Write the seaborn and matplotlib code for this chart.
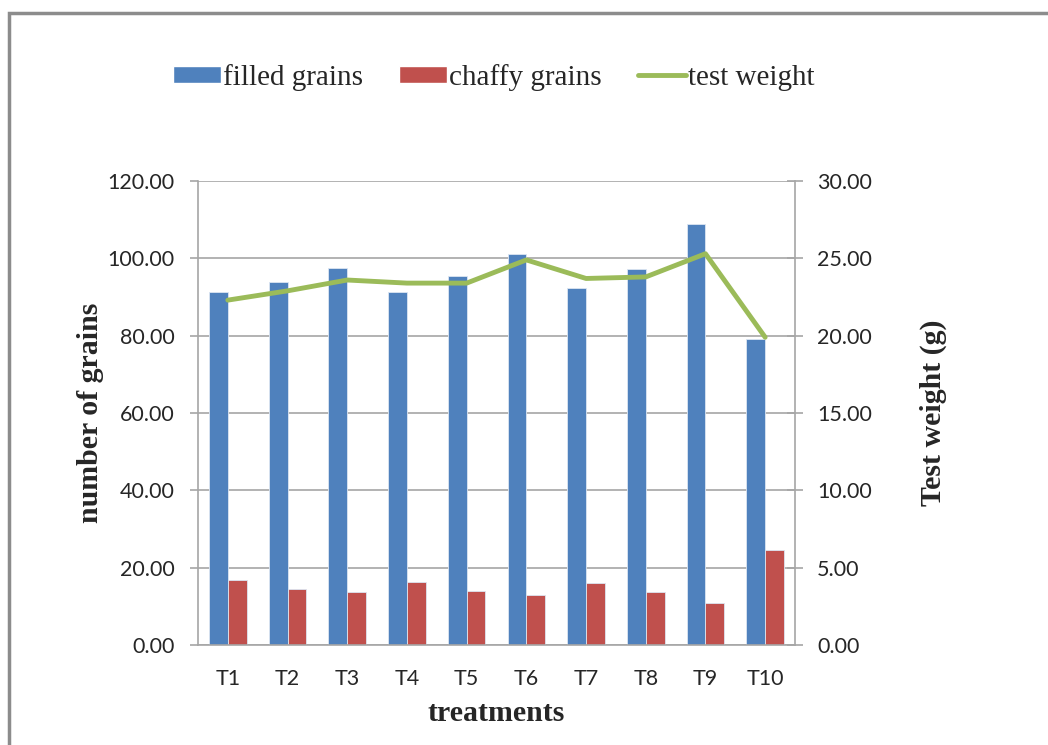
import numpy as np
import pandas as pd
import seaborn as sns
import matplotlib.pyplot as plt
from matplotlib.patches import Patch, Rectangle
from matplotlib.lines import Line2D

# values
treatments = ["T1", "T2", "T3", "T4", "T5", "T6", "T7", "T8", "T9", "T10"]
filled_grains = [91.2, 94.0, 97.6, 91.4, 95.4, 101.2, 92.4, 97.2, 108.9, 79.1]
chaffy_grains = [16.9, 14.4, 13.6, 16.3, 14.1, 12.9, 16.0, 13.6, 10.9, 24.6]
test_weight = [22.3, 22.9, 23.6, 23.4, 23.4, 24.9, 23.7, 23.8, 25.3, 19.9]

left_ticks = [0, 20, 40, 60, 80, 100, 120]
right_ticks = [0, 5, 10, 15, 20, 25, 30]

blue, red, green = "#4F81BD", "#C0504D", "#9BBB59"
grid_grey = "#A6A6A6"

bars = pd.DataFrame({
    "treatment": treatments * 2,
    "value": filled_grains + chaffy_grains,
    "kind": ["filled grains"] * len(treatments) + ["chaffy grains"] * len(treatments),
})
line = pd.DataFrame({"treatment": treatments, "weight": test_weight})

sns.set_style("white")
fig = plt.figure(figsize=(10.48, 7.45), dpi=100)
ax = fig.add_axes([0.1889, 0.1342, 0.5697, 0.6228])

sns.barplot(data=bars, x="treatment", y="value", hue="kind", order=treatments,
            palette=[blue, red], saturation=1, width=0.63, gap=0, ax=ax,
            edgecolor="#dce6f2", linewidth=0.6, legend=False)

ax2 = ax.twinx()
sns.pointplot(data=line, x="treatment", y="weight", order=treatments,
              color=green, markers="", linestyles="-", linewidth=3.5,
              errorbar=None, ax=ax2)

ax.set_xlim(-0.5, len(treatments) - 0.5)
ax.set_ylim(0, 120)
ax2.set_ylim(0, 30)
ax.set_yticks(left_ticks)
ax.set_yticklabels([f"{v:.2f}" for v in left_ticks])
ax2.set_yticks(right_ticks)
ax2.set_yticklabels([f"{v:.2f}" for v in right_ticks])

# gridlines at the left-axis ticks
ax.yaxis.grid(True, color=grid_grey, linewidth=1.2)
ax.set_axisbelow(True)

# category boundary ticks on the x axis
ax.set_xticks(np.arange(len(treatments)))
ax.set_xticklabels(treatments)
ax.set_xticks(np.arange(-0.5, len(treatments)), minor=True)
ax.tick_params(axis="x", which="major", length=0, pad=17)
ax.tick_params(axis="x", which="minor", length=7, width=1.2, color=grid_grey, direction="out")
ax.tick_params(axis="y", length=6, width=1.2, color=grid_grey, direction="out", pad=11)
ax2.tick_params(axis="y", length=12, width=1.2, color=grid_grey, direction="inout", pad=10)

for lab in ax.get_xticklabels() + ax.get_yticklabels() + ax2.get_yticklabels():
    lab.set_fontfamily("Lato")
    lab.set_fontsize(15.5)
    lab.set_color("#262626")

for a in (ax, ax2):
    for s in a.spines.values():
        s.set_visible(False)
for a, side in ((ax, "left"), (ax, "bottom"), (ax2, "right")):
    a.spines[side].set_visible(True)
    a.spines[side].set_color(grid_grey)
    a.spines[side].set_linewidth(1.2)

label_font = {"family": "Liberation Serif", "size": 21.5, "weight": "bold"}
ax.set_xlabel("treatments", fontdict=label_font, labelpad=8)
ax.set_ylabel("number of grains", fontdict=label_font, labelpad=2)
ax2.set_ylabel("Test weight (g)", fontdict=label_font, labelpad=34)

handles = [Patch(facecolor=blue), Patch(facecolor=red),
           Line2D([0], [0], color=green, linewidth=3.5)]
fig.legend(handles, ["filled grains", "chaffy grains", "test weight"],
           loc="center", bbox_to_anchor=(0.471, 0.896), ncol=3, frameon=False,
           prop={"family": "Liberation Serif", "size": 21},
           handlelength=1.65, handleheight=0.55, handletextpad=0.05, columnspacing=1.25)

# grey outer border like the chart frame
fig.patches.append(Rectangle((0.009, -0.05), 1.1, 1.033, transform=fig.transFigure,
                             fill=False, edgecolor="#8c8c8c", linewidth=2.5))

fig.savefig("out.png", dpi=100)
